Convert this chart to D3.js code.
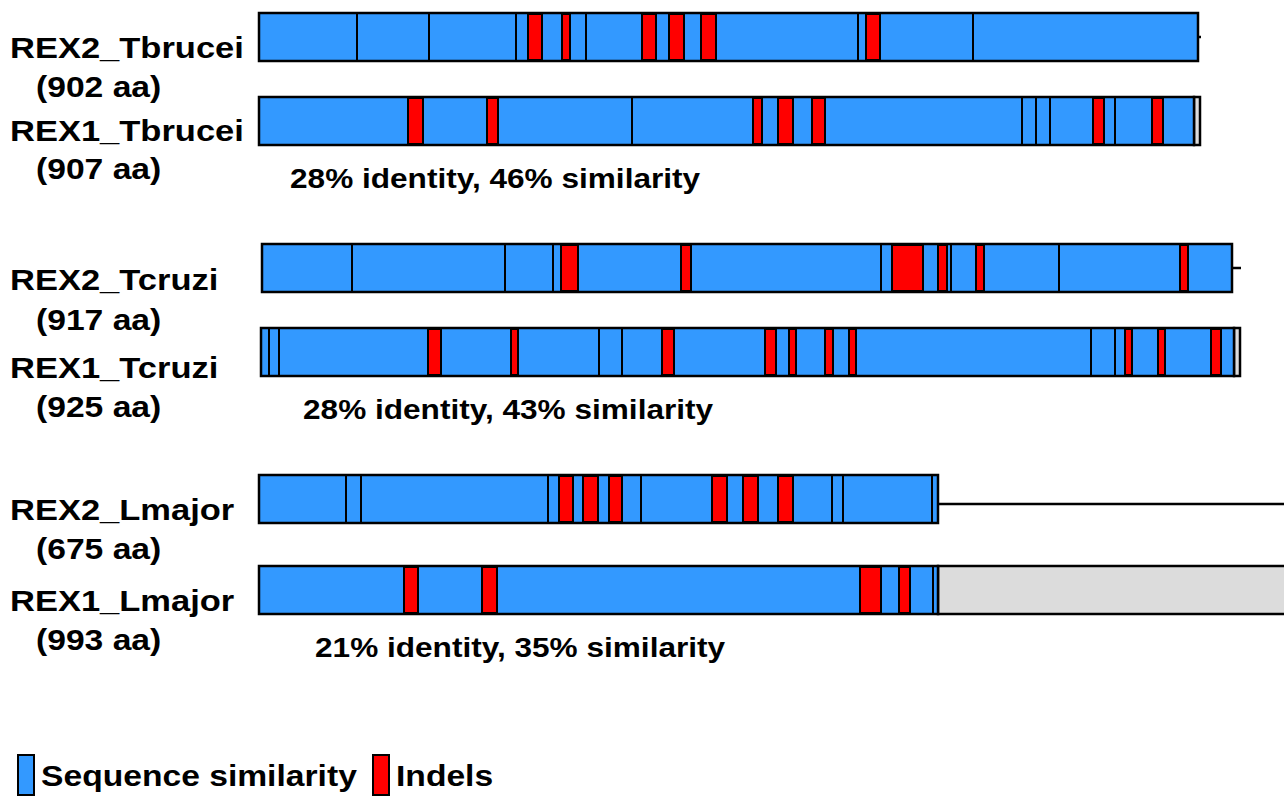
<!DOCTYPE html>
<html>
<head>
<meta charset="utf-8">
<script src="https://cdn.jsdelivr.net/npm/d3@7"></script>
<style>
  body { margin: 0; background: #fff; }
  text { font-family: "Liberation Sans", Arial, sans-serif; font-weight: bold; fill: #000; }
</style>
</head>
<body>
<div id="chart"></div>
<script>
// alignment columns, 0 = first column of the alignment
const names = ['REX2_Tbrucei', 'REX1_Tbrucei', 'REX2_Tcruzi', 'REX1_Tcruzi', 'REX2_Lmajor', 'REX1_Lmajor'];
const lengths = ['(902 aa)', '(907 aa)', '(917 aa)', '(925 aa)', '(675 aa)', '(993 aa)'];
const starts = [0, 0, 3, 2, 0, 0];
const ends = [939, 935, 973, 975, 679, 679];
// grey = unaligned tail, line = gap in the alignment
const tails = [
  { type: 'line', to: 942 },
  { type: 'grey', to: 941 },
  { type: 'line', to: 982 },
  { type: 'grey', to: 981 },
  { type: 'line', to: 1025 },
  { type: 'grey', to: 1040 }
];
const dividers = [
  [98, 170, 257, 327, 599, 714],
  [373, 763, 777, 791, 856],
  [93, 246, 294, 622, 692, 800],
  [10, 20, 340, 363, 832, 856],
  [87, 102, 289, 382, 573, 584, 673],
  [674]
];
const indels = [
  [[269, 283], [303, 311], [383, 397], [410, 425], [442, 457], [607, 621]],
  [[149, 164], [228, 239], [494, 503], [519, 534], [553, 566], [834, 845], [893, 904]],
  [[302, 319], [422, 432], [633, 664], [679, 688], [717, 725], [921, 929]],
  [[169, 182], [252, 259], [403, 415], [506, 517], [530, 537], [566, 574], [590, 597], [866, 873], [899, 906], [952, 962]],
  [[300, 314], [324, 339], [350, 363], [453, 468], [484, 499], [519, 534]],
  [[145, 159], [223, 238], [601, 622], [640, 651]]
];
const identities = ['28% identity, 46% similarity', '28% identity, 43% similarity', '21% identity, 35% similarity'];
const legend_labels = ['Sequence similarity', 'Indels'];

function alignment(options) {
  const id = '#' + options.id;
  const svg_width = options.width || 1284;
  const svg_height = options.height || 796;
  const stretch = 1.16;
  const bar_h = 48;
  const blue = '#3399ff';
  const red = '#ff0000';
  const grey = '#dcdcdc';

  d3.select(id).selectAll('*').remove();
  const svg = d3.select(id)
    .append('svg')
    .attr('width', svg_width)
    .attr('height', svg_height);

  const x = d3.scaleLinear()
    .domain([0, 1025])
    .range([259, 1284]);

  // rows come in pairs, the Lmajor pair sits a bit further apart
  const pair_gap = [84, 84, 91];
  function row_top(i) {
    const group = Math.floor(i / 2);
    const member = i % 2;
    return 13 + group * 231 + member * pair_gap[group];
  }

  function label(g, tx, ty, size, txt, sx) {
    g.append('text')
      .attr('transform', 'translate(' + tx + ',' + ty + ') scale(' + (sx || stretch) + ',1)')
      .style('font-size', size + 'px')
      .text(txt);
  }

  const name_dy = [45, 44, 46, 50, 45, 45];
  const len_dy = [84, 82, 86, 89, 84, 84];

  names.forEach(function (name, i) {
    const top = row_top(i);
    const mid = top + bar_h / 2;
    const g = svg.append('g');

    // tail first so the bar border sits on top
    const tail = tails[i];
    if (tail.type === 'grey') {
      g.append('rect')
        .attr('x', x(ends[i]))
        .attr('y', top)
        .attr('width', x(tail.to) - x(ends[i]))
        .attr('height', bar_h)
        .attr('fill', grey)
        .attr('stroke', '#000')
        .attr('stroke-width', 2.5);
    } else {
      g.append('line')
        .attr('x1', x(ends[i]))
        .attr('x2', x(tail.to))
        .attr('y1', mid + 5 * (i === 4))
        .attr('y2', mid + 5 * (i === 4))
        .attr('stroke', '#000')
        .attr('stroke-width', 2.5);
    }

    g.append('rect')
      .attr('x', x(starts[i]))
      .attr('y', top)
      .attr('width', x(ends[i]) - x(starts[i]))
      .attr('height', bar_h)
      .attr('fill', blue)
      .attr('stroke', '#000')
      .attr('stroke-width', 2.5);

    g.selectAll('.div')
      .data(dividers[i])
      .enter()
      .append('line')
      .attr('x1', function (d) { return x(d); })
      .attr('x2', function (d) { return x(d); })
      .attr('y1', top)
      .attr('y2', top + bar_h)
      .attr('stroke', '#000')
      .attr('stroke-width', 2);

    g.selectAll('.indel')
      .data(indels[i])
      .enter()
      .append('rect')
      .attr('x', function (d) { return x(d[0]); })
      .attr('y', top + 1)
      .attr('width', function (d) { return x(d[1]) - x(d[0]); })
      .attr('height', bar_h - 2)
      .attr('fill', red)
      .attr('stroke', '#000')
      .attr('stroke-width', 2);

    label(svg, 10, top + name_dy[i], 29, name, 1.19);
    label(svg, 36, top + len_dy[i], 29, lengths[i]);
  });

  const id_x = [290, 303, 315];
  identities.forEach(function (t, k) {
    label(svg, id_x[k], row_top(k * 2 + 1) + 91, 27, t, 1.17);
  });

  // legend
  const lg = svg.append('g');
  const legend_x = [18, 373];
  const legend_fill = [blue, red];
  legend_labels.forEach(function (t, k) {
    lg.append('rect')
      .attr('x', legend_x[k])
      .attr('y', 755)
      .attr('width', 16)
      .attr('height', 40)
      .attr('fill', legend_fill[k])
      .attr('stroke', '#000')
      .attr('stroke-width', 2);
    label(lg, legend_x[k] + 23, 786, 29, t);
  });
}

alignment({ id: 'chart', width: 1284, height: 796 });
</script>
</body>
</html>
